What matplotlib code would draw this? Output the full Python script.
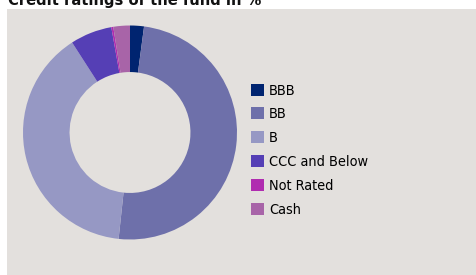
import matplotlib
matplotlib.use("Agg")
import matplotlib.pyplot as plt
from matplotlib.patches import Rectangle, Patch

labels = ["BBB", "BB", "B", "CCC and Below", "Not Rated", "Cash"]
values = [2.1, 49.6, 39.2, 6.3, 0.3, 2.5]
colors = ["#002470", "#6e70aa", "#9698c4", "#553fb5", "#b02cb0", "#a864a8"]
title = "Credit ratings of the fund in %"

BG = "#e3e0dd"
FONT = dict(family="DejaVu Sans", stretch="condensed")

W, H = 476, 275
fig = plt.figure(figsize=(W / 100, H / 100), dpi=100)
fig.patch.set_facecolor("white")

# grey panel
fig.patches.append(Rectangle((7 / W, 0), 1, (H - 9) / H, transform=fig.transFigure,
                             facecolor=BG, edgecolor="none", zorder=-5))

# title, cut off at the top as in the source
fig.text(8 / W, 1 - 4.5 / H, title, fontsize=11.8, fontweight="bold", color="#111111",
         va="baseline", ha="left", **FONT)

cx, cy, r = 130, 132.5, 107
ax = fig.add_axes([(cx - r) / W, (H - cy - r) / H, 2 * r / W, 2 * r / H])
ax.set_zorder(2)
ax.pie(values, colors=colors, startangle=90, counterclock=False,
       wedgeprops=dict(width=0.435, linewidth=0))
ax.set_xlim(-1, 1)
ax.set_ylim(-1, 1)
ax.set_aspect("equal")
ax.axis("off")

handles = [Patch(facecolor=c, edgecolor="none") for c in colors]
leg = fig.legend(handles, labels, loc="upper left", bbox_to_anchor=(251 / W, 1 - 83.5 / H),
                 frameon=False, prop=dict(size=10.4, **FONT), handlelength=0.9,
                 handleheight=0.9, handletextpad=0.35, labelspacing=0.69,
                 borderaxespad=0, borderpad=0)
leg.set_zorder(3)

fig.savefig("out.png", dpi=100, facecolor="white")
